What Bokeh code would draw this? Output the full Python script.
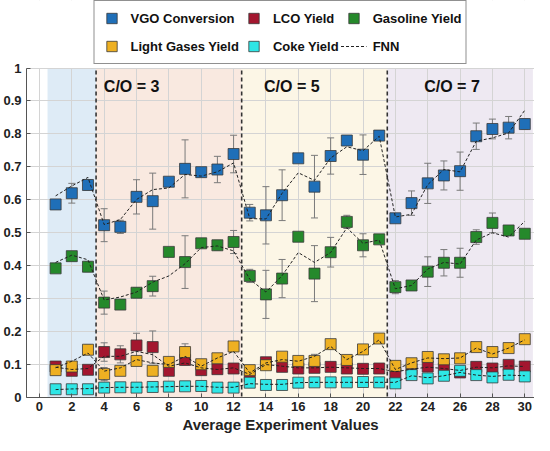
from bokeh.plotting import figure
from bokeh.models import (ColumnDataSource, Whisker, TeeHead, BoxAnnotation, Span,
                          Legend, LegendItem, Range1d, FixedTicker)
from bokeh.core.properties import value
from bokeh.embed import file_html
from bokeh.resources import INLINE

# ---------------- data ----------------
x = list(range(1, 31))

vgo = [0.586, 0.620, 0.645, 0.523, 0.518, 0.609, 0.596, 0.655, 0.694, 0.684,
       0.692, 0.739, 0.561, 0.553, 0.614, 0.726, 0.640, 0.733, 0.780, 0.737,
       0.795, 0.544, 0.590, 0.650, 0.674, 0.687, 0.793, 0.815, 0.819, 0.830]
vgo_err = [0.005, 0.030, 0.015, 0.050, 0.020, 0.052, 0.085, 0.010, 0.088, 0.010,
           0.040, 0.057, 0.025, 0.087, 0.077, 0.010, 0.095, 0.055, 0.010, 0.060,
           0.008, 0.010, 0.037, 0.061, 0.044, 0.058, 0.040, 0.030, 0.034, 0.015]
vgo_fnn = [0.612, 0.642, 0.668, 0.525, 0.540, 0.601, 0.631, 0.636, 0.677, 0.672,
           0.685, 0.712, 0.543, 0.542, 0.620, 0.682, 0.659, 0.727, 0.761, 0.749,
           0.793, 0.548, 0.556, 0.646, 0.692, 0.685, 0.778, 0.788, 0.803, 0.872]

lco = [0.094, 0.081, 0.084, 0.138, 0.131, 0.158, 0.153, 0.081, 0.114, 0.083,
       0.086, 0.088, 0.065, 0.107, 0.093, 0.088, 0.090, 0.093, 0.088, 0.087,
       0.088, 0.072, 0.086, 0.094, 0.088, 0.076, 0.093, 0.088, 0.099, 0.094]
lco_err = [0.005, 0.005, 0.005, 0.028, 0.026, 0.037, 0.049, 0.005, 0.015, 0.005,
           0.008, 0.010, 0.005, 0.008, 0.005, 0.005, 0.005, 0.005, 0.005, 0.005,
           0.005, 0.008, 0.005, 0.005, 0.005, 0.005, 0.005, 0.005, 0.005, 0.005]
lco_fnn = [0.092, 0.085, 0.088, 0.125, 0.125, 0.140, 0.130, 0.095, 0.105, 0.090,
           0.085, 0.090, 0.070, 0.100, 0.095, 0.090, 0.090, 0.092, 0.090, 0.088,
           0.088, 0.078, 0.086, 0.092, 0.088, 0.082, 0.092, 0.090, 0.096, 0.094]

gas = [0.392, 0.429, 0.397, 0.288, 0.282, 0.318, 0.338, 0.442, 0.411, 0.468,
       0.462, 0.472, 0.369, 0.313, 0.361, 0.488, 0.376, 0.441, 0.533, 0.462,
       0.480, 0.335, 0.340, 0.382, 0.409, 0.409, 0.487, 0.530, 0.507, 0.497]
gas_err = [0.005, 0.010, 0.015, 0.035, 0.010, 0.015, 0.030, 0.008, 0.080, 0.010,
           0.015, 0.035, 0.020, 0.073, 0.058, 0.010, 0.085, 0.045, 0.020, 0.035,
           0.010, 0.020, 0.010, 0.045, 0.040, 0.044, 0.022, 0.030, 0.015, 0.010]
gas_fnn = [0.410, 0.432, 0.418, 0.296, 0.305, 0.320, 0.350, 0.369, 0.406, 0.455,
           0.460, 0.445, 0.359, 0.320, 0.370, 0.440, 0.410, 0.440, 0.515, 0.468,
           0.478, 0.330, 0.340, 0.390, 0.410, 0.405, 0.478, 0.500, 0.487, 0.535]

lg = [0.083, 0.094, 0.145, 0.071, 0.081, 0.111, 0.081, 0.108, 0.138, 0.101,
      0.119, 0.155, 0.083, 0.098, 0.124, 0.111, 0.111, 0.162, 0.114, 0.146,
      0.179, 0.096, 0.104, 0.123, 0.116, 0.119, 0.153, 0.138, 0.150, 0.177]
lg_err = [0.005, 0.005, 0.015, 0.020, 0.008, 0.010, 0.008, 0.008, 0.025, 0.008,
          0.008, 0.008, 0.008, 0.010, 0.010, 0.008, 0.020, 0.008, 0.008, 0.015,
          0.008, 0.010, 0.005, 0.008, 0.005, 0.008, 0.005, 0.005, 0.005, 0.005]
lg_fnn = [0.090, 0.110, 0.135, 0.080, 0.090, 0.115, 0.105, 0.100, 0.125, 0.095,
          0.120, 0.140, 0.075, 0.105, 0.115, 0.110, 0.125, 0.155, 0.115, 0.140,
          0.175, 0.085, 0.105, 0.120, 0.118, 0.120, 0.150, 0.132, 0.150, 0.175]

coke = [0.025, 0.025, 0.025, 0.030, 0.031, 0.030, 0.032, 0.033, 0.034, 0.035,
        0.030, 0.030, 0.045, 0.038, 0.038, 0.045, 0.046, 0.046, 0.046, 0.047,
        0.046, 0.043, 0.068, 0.058, 0.066, 0.081, 0.068, 0.061, 0.069, 0.064]
coke_err = [0.004] * 30
coke_fnn = [0.024, 0.026, 0.027, 0.030, 0.031, 0.031, 0.032, 0.033, 0.034, 0.034,
            0.031, 0.031, 0.042, 0.040, 0.040, 0.045, 0.046, 0.046, 0.046, 0.046,
            0.046, 0.046, 0.066, 0.060, 0.066, 0.076, 0.068, 0.064, 0.068, 0.066]

series_names = ["VGO Conversion", "LCO Yield", "Gasoline Yield",
                "Light Gases Yield", "Coke Yield"]
series_colors = ["#1f6fb8", "#a3162f", "#25892b", "#eeb022", "#2ee6e6"]

region_start = [0.5, 3.5, 12.5, 21.5]
region_end = [3.5, 12.5, 21.5, 30.5]
region_colors = ["#deebf6", "#f9e9e0", "#fcf6e6", "#eee9f2"]
dividers = [3.5, 12.5, 21.5]

co_labels = ["C/O = 3", "C/O = 5", "C/O = 7"]
co_x = [5.7, 15.6, 25.5]
co_y = [0.943, 0.943, 0.943]

x_ticks = list(range(0, 31, 2))
y_ticks = [0.0, 0.1, 0.2, 0.3, 0.4, 0.5, 0.6, 0.7, 0.8, 0.9, 1.0]
y_tick_labels = ["0", "0.1", "0.2", "0.3", "0.4", "0.5", "0.6", "0.7", "0.8", "0.9", "1"]
y_axis_max = 1.0

# ---------------- figure ----------------
FONT = "Liberation Sans"
p = figure(width=534, height=435, output_backend="svg",
           toolbar_location=None, x_range=Range1d(-0.8, 30.6),
           y_range=Range1d(0, 1.205), min_border_left=0, min_border_right=0,
           min_border_top=0, min_border_bottom=0)
p.outline_line_color = None
p.background_fill_color = "white"

for s, e, c in zip(region_start, region_end, region_colors):
    p.add_layout(BoxAnnotation(left=s, right=e, bottom=0, top=y_axis_max,
                               fill_color=c, fill_alpha=1.0,
                               line_color=None, level="image"))

for g in (p.xgrid, p.ygrid):
    g.grid_line_color = "#d4d4d4"
    g.grid_line_width = 1
p.xgrid.ticker = FixedTicker(ticks=x_ticks)
p.ygrid.ticker = FixedTicker(ticks=y_ticks)

for d in dividers:
    p.add_layout(Span(location=d, dimension="height", line_color="#333333",
                      line_width=1.6, line_dash="4 3", level="underlay"))

# white area above the axes' top (legend zone)
p.add_layout(BoxAnnotation(bottom=y_axis_max, fill_color="white", fill_alpha=1.0,
                           line_color=None, level="underlay"))

values = [vgo, lco, gas, lg, coke]
errs = [vgo_err, lco_err, gas_err, lg_err, coke_err]
fnns = [vgo_fnn, lco_fnn, gas_fnn, lg_fnn, coke_fnn]

legend_items = []
fnn_renderer = None
sq_renderers = []
for name, col, yv, ev in zip(series_names, series_colors, values, errs):
    src = ColumnDataSource(dict(x=x, y=yv,
                                upper=[a + b for a, b in zip(yv, ev)],
                                lower=[a - b for a, b in zip(yv, ev)]))
    w = Whisker(base="x", upper="upper", lower="lower", source=src,
                line_color="#7a7a7a", line_width=1,
                upper_head=TeeHead(size=7, line_color="#7a7a7a", line_width=1),
                lower_head=TeeHead(size=7, line_color="#7a7a7a", line_width=1))
    p.add_layout(w)
    r = p.scatter("x", "y", source=src, marker="square", size=11,
                  fill_color=col, line_color="#3a3a3a", line_width=0.8)
    sq_renderers.append(r)

for yf in fnns:
    fr = p.line(x, yf, line_color="#222222", line_width=1, line_dash="3 2")
    if fnn_renderer is None:
        fnn_renderer = fr

for name, r in zip(series_names, sq_renderers):
    legend_items.append(LegendItem(label=name, renderers=[r]))
legend_items.append(LegendItem(label="FNN", renderers=[fnn_renderer]))

legend = Legend(items=legend_items, orientation="horizontal", nrows=2,
                location="top_center", glyph_width=26, glyph_height=26,
                label_standoff=6, spacing=2, padding=4, margin=0,
                border_line_color="#222222", border_line_width=1.5,
                background_fill_color="white", background_fill_alpha=1.0,
                label_text_font=FONT, label_text_font_style="bold",
                label_text_font_size="13px", label_text_color="#111111")
p.add_layout(legend)

p.text(x=co_x, y=co_y, text=co_labels, text_font=value(FONT),
       text_font_style="bold", text_font_size="16px", text_align="center",
       text_baseline="middle", text_color="#111111")

# axes
p.xaxis.ticker = FixedTicker(ticks=x_ticks)
p.yaxis.ticker = FixedTicker(ticks=y_ticks)
p.yaxis.bounds = (0, y_axis_max)
p.yaxis.major_label_overrides = {t: l for t, l in zip(y_ticks, y_tick_labels)}
for ax in (p.xaxis, p.yaxis):
    ax.axis_line_color = "#555555"
    ax.major_tick_line_color = "#555555"
    ax.major_tick_in = 4
    ax.major_tick_out = 0
    ax.minor_tick_line_color = None
    ax.major_label_text_font = FONT
    ax.major_label_text_font_style = "bold"
    ax.major_label_text_font_size = "13px"
    ax.major_label_text_color = "#222222"
    ax.major_label_text_line_height = 1.0
p.yaxis.major_label_standoff = 5
p.xaxis.major_label_standoff = 4
p.xaxis.axis_label = "Average Experiment Values"
p.xaxis.axis_label_text_font = FONT
p.xaxis.axis_label_text_font_style = "bold"
p.xaxis.axis_label_text_font_size = "15px"
p.xaxis.axis_label_text_color = "#222222"
p.xaxis.axis_label_text_line_height = 1.0
p.xaxis.axis_label_standoff = 2

open("out.html", "w").write(file_html(p, INLINE))
